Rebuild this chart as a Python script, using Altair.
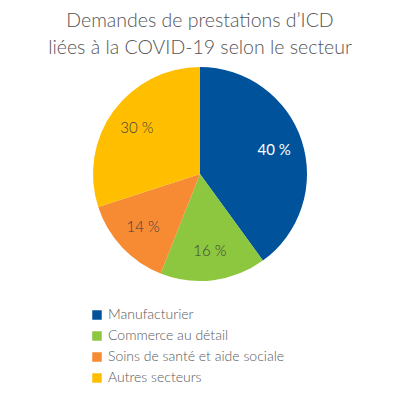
import pandas as pd
import altair as alt

sectors = ["Manufacturier", "Commerce au détail", "Soins de santé et aide sociale", "Autres secteurs"]
shares = [40, 16, 14, 30]
labels = ["40 %", "16 %", "14 %", "30 %"]
colors = ["#00529b", "#8dc63f", "#f68b33", "#ffbf00"]

df = pd.DataFrame({"secteur": sectors, "part": shares, "label": labels, "ordre": range(len(sectors))})

base = alt.Chart(df).encode(
    theta=alt.Theta("part:Q", stack=True),
    order=alt.Order("ordre:Q"),
    x=alt.value(192),
    y=alt.value(166),
)

pie = base.mark_arc(outerRadius=107).encode(
    color=alt.Color(
        "secteur:N",
        sort=sectors,
        scale=alt.Scale(domain=sectors, range=colors),
        legend=alt.Legend(
            title=None,
            orient="none",
            legendX=82,
            legendY=300,
            symbolType="square",
            symbolSize=90,
            symbolStrokeWidth=0,
            labelFontSize=14,
            labelFont="Lato",
            labelFontWeight=300,
            labelColor="#595959",
            labelLimit=0,
            rowPadding=7,
            labelOffset=4,
        ),
    )
)

is_blue = alt.datum.secteur == "Manufacturier"

# white label on the blue slice is a bit heavier than the others
text_dark = base.mark_text(radius=78, fontSize=15, font="Lato", fontWeight=300, color="#404040").encode(
    text="label:N",
    opacity=alt.condition(is_blue, alt.value(0), alt.value(1)),
)

text_light = base.mark_text(radius=78, fontSize=15, font="Lato", fontWeight="normal", color="white").encode(
    text="label:N",
    opacity=alt.condition(is_blue, alt.value(1), alt.value(0)),
)

chart = (pie + text_dark + text_light).properties(
    width=384,
    height=384,
    padding=0,
    autosize=alt.AutoSizeParams(type="none"),
    title=alt.TitleParams(
        text=["Demandes de prestations d’ICD", "liées à la COVID-19 selon le secteur"],
        font="Lato",
        fontSize=19.5,
        fontWeight=300,
        color="#555555",
        anchor="middle",
        lineHeight=27,
        offset=-50,
    ),
).configure_view(stroke=None)

chart.save("out.html", embed_options={"renderer": "svg", "actions": False})
